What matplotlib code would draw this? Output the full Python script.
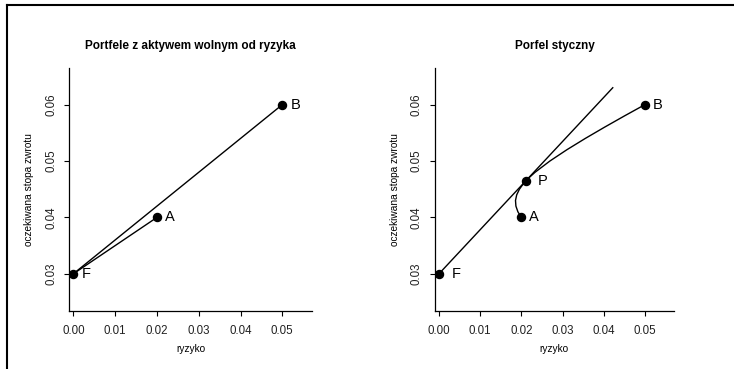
import matplotlib
matplotlib.use("Agg")
import matplotlib.pyplot as plt
from matplotlib.lines import Line2D

plt.rcParams['font.family'] = ['Liberation Sans', 'DejaVu Sans']

# data
point_names = ["F", "A", "B"]
point_risk = [0.0, 0.02, 0.05]
point_return = [0.03, 0.04, 0.06]

tangent_name = "P"
tangent_risk = 0.0211
tangent_return = 0.0465

# frontier A-B
frontier_risk = [0.0200, 0.01916, 0.01868, 0.01858, 0.01887, 0.01953, 0.02052,
                 0.02111, 0.02180, 0.02332, 0.02693, 0.03105, 0.03551, 0.04020,
                 0.04504, 0.0500]
frontier_return = [0.040, 0.041, 0.042, 0.043, 0.044, 0.045, 0.046,
                   0.0465, 0.047, 0.048, 0.050, 0.052, 0.054, 0.056,
                   0.058, 0.060]

# capital market line end points
cml_risk = [0.0, 0.0422]
cml_return = [0.030, 0.0630]

x_ticks = [0.00, 0.01, 0.02, 0.03, 0.04, 0.05]
y_ticks = [0.03, 0.04, 0.05, 0.06]
titles = ["Portfele z aktywem wolnym od ryzyka", "Porfel styczny"]
xlabel = "ryzyko"
ylabel = "oczekiwana stopa zwrotu"

fig = plt.figure(figsize=(7.34, 3.69), dpi=100)
ax1 = fig.add_axes([0.094, 0.1572, 0.331, 0.6585])
ax2 = fig.add_axes([0.5922, 0.1572, 0.3262, 0.6585])

for ax, title in zip([ax1, ax2], titles):
    ax.set_xlim(-0.00105, 0.0571)
    ax.set_ylim(0.0234, 0.0665)
    ax.spines['top'].set_visible(False)
    ax.spines['right'].set_visible(False)
    ax.spines['left'].set_linewidth(0.9)
    ax.spines['bottom'].set_linewidth(0.9)
    ax.set_xticks(x_ticks)
    ax.set_xticklabels([f"{v:.2f}" for v in x_ticks])
    ax.set_yticks(y_ticks)
    ax.set_yticklabels([f"{v:.2f}" for v in y_ticks], rotation=90, va='center')
    ax.tick_params(direction='out', length=3.6, width=0.8, labelsize=8.3,
                   colors='black', labelcolor='#222222', pad=6.5)
    ax.tick_params(axis='y', pad=5)
    ax.set_xlabel(xlabel, fontsize=7.3, labelpad=5)
    ax.set_ylabel(ylabel, fontsize=7.3, labelpad=8)
    ax.set_title(title, fontsize=8.5, fontweight='bold', pad=14)

# left panel: lines from F to A and to B
for i in [1, 2]:
    ax1.plot([point_risk[0], point_risk[i]], [point_return[0], point_return[i]],
             color='black', lw=1.0)
ax1.plot(point_risk, point_return, 'o', color='black', ms=5.8)
for name, x, y in zip(point_names, point_risk, point_return):
    ax1.annotate(name, (x, y), xytext=(6, 0), textcoords='offset points',
                 va='center', ha='left', fontsize=10.5)

# right panel: frontier, tangent line, points
ax2.plot(frontier_risk, frontier_return, color='black', lw=1.0)
ax2.plot(cml_risk, cml_return, color='black', lw=1.0)
ax2.plot(point_risk, point_return, 'o', color='black', ms=5.8)
ax2.plot([tangent_risk], [tangent_return], 'o', color='black', ms=5.8)
offsets = {"F": 9.5, "A": 5.5, "B": 5.5, "P": 8.5}
for name, x, y in zip(point_names + [tangent_name], point_risk + [tangent_risk],
                      point_return + [tangent_return]):
    ax2.annotate(name, (x, y), xytext=(offsets[name], 0), textcoords='offset points',
                 va='center', ha='left', fontsize=10.5)

# outer frame (top and left edges)
fig.add_artist(Line2D([7 / 734, 1.0], [1 - 5 / 369, 1 - 5 / 369],
                      transform=fig.transFigure, color='black', lw=1.5))
fig.add_artist(Line2D([7 / 734, 7 / 734], [0.0, 1 - 5 / 369],
                      transform=fig.transFigure, color='black', lw=1.5))

fig.savefig("out.png", dpi=100)
